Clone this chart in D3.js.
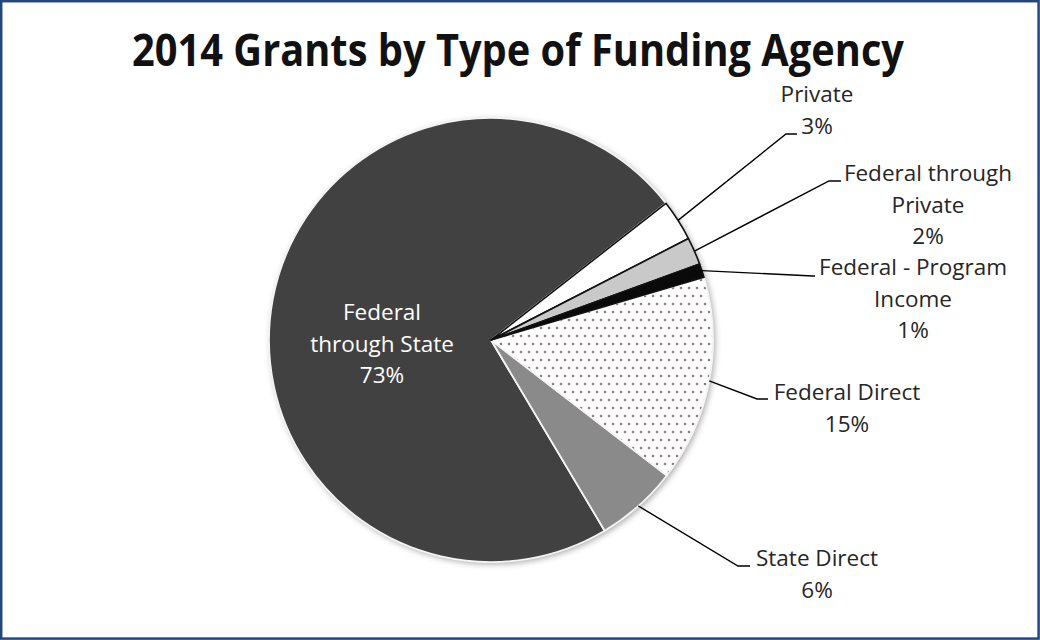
<!DOCTYPE html>
<html>
<head>
<meta charset="utf-8">
<script src="https://cdn.jsdelivr.net/npm/d3@7"></script>
<style>
  html, body { margin: 0; padding: 0; background: #ffffff; }
  svg { display: block; }
</style>
</head>
<body>
<svg id="chart" width="1040" height="640"></svg>
<script>
// Funding agency categories, drawn clockwise starting just past one o'clock
const categories = ["Private", "Federal through Private", "Federal - Program Income",
                    "Federal Direct", "State Direct", "Federal through State"];
const values = [3, 2, 1, 15, 6, 73];
const labelLines = [
  ["Private", "3%"],
  ["Federal through", "Private", "2%"],
  ["Federal - Program", "Income", "1%"],
  ["Federal Direct", "15%"],
  ["State Direct", "6%"],
  ["Federal", "through State", "73%"]
];

const W = 1040, H = 640;
const cx = 491, cy = 340, R = 222;
const startDeg = 52;

const svg = d3.select("#chart");

// chart frame
svg.append("rect")
  .attr("x", 1.2).attr("y", 1.2)
  .attr("width", W - 2.6).attr("height", H - 2.6)
  .attr("fill", "#ffffff")
  .attr("stroke", "#23467f").attr("stroke-width", 2.5);

const defs = svg.append("defs");
const dots = defs.append("pattern")
  .attr("id", "dots").attr("patternUnits", "userSpaceOnUse")
  .attr("width", 8).attr("height", 16);
dots.append("rect").attr("width", 8).attr("height", 16).attr("fill", "#ffffff");
dots.append("circle").attr("cx", 2).attr("cy", 4).attr("r", 1.3).attr("fill", "#8a7c7c");
dots.append("circle").attr("cx", 6).attr("cy", 12).attr("r", 1.3).attr("fill", "#8a7c7c");

const shadow = defs.append("filter").attr("id", "shadow")
  .attr("x", "-10%").attr("y", "-10%").attr("width", "120%").attr("height", "120%");
shadow.append("feDropShadow")
  .attr("dx", 2).attr("dy", 2).attr("stdDeviation", 3)
  .attr("flood-color", "#000000").attr("flood-opacity", 0.35);

// title
const title = svg.append("text")
  .attr("x", 518).attr("y", 66)
  .attr("text-anchor", "middle")
  .attr("font-family", "'Open Sans', 'Liberation Sans', sans-serif")
  .attr("font-weight", 700)
  .attr("font-size", 45)
  .attr("fill", "#111111")
  .text("2014 Grants by Type of Funding Agency");
const tw = title.node().getComputedTextLength();
if (tw > 772) title.attr("textLength", 772).attr("lengthAdjust", "spacingAndGlyphs");

const fills = ["#ffffff", "#c9c9c9", "#0a0a0a", "url(#dots)", "#8a8a8a", "#414141"];
const strokes = ["#111111", "#111111", "#111111", "#f4f4f4", "#f4f4f4", "#f4f4f4"];

const pie = d3.pie().sort(null).value(d => d)
  .startAngle(startDeg * Math.PI / 180)
  .endAngle(startDeg * Math.PI / 180 + 2 * Math.PI);
const arcs = pie(values);
const arc = d3.arc().innerRadius(0).outerRadius(R);

const g = svg.append("g").attr("transform", `translate(${cx},${cy})`);

// shadowed base disc behind the slices
g.append("circle").attr("r", R).attr("fill", "#ffffff").attr("filter", "url(#shadow)");

// light-outlined slices first, dark-outlined slices on top
const order = [5, 4, 3, 0, 1, 2];
g.selectAll("path.slice")
  .data(order.map(i => ({ a: arcs[i], i })))
  .join("path")
  .attr("class", "slice")
  .attr("d", d => arc(d.a))
  .attr("fill", d => fills[d.i])
  .attr("stroke", d => strokes[d.i])
  .attr("stroke-width", d => d.i <= 2 ? 1.6 : 1.8)
  .attr("stroke-linejoin", "round");

// outside label placement: elbow, end of horizontal run, text anchor point
const outside = [
  { elbow: [786, 134], end: [797, 134], tx: 817, ty: 102 },
  { elbow: [829, 181], end: [841, 181], tx: 928, ty: 181 },
  { elbow: [813, 276], end: [815, 276], tx: 913, ty: 275 },
  { elbow: [757, 399], end: [768, 399], tx: 847, ty: 400 },
  { elbow: [738, 566], end: [750, 566], tx: 817, ty: 566 }
];
const lineGap = 31.5;

outside.forEach((o, i) => {
  const a = arcs[i];
  const mid = (a.startAngle + a.endAngle) / 2;
  const sx = cx + R * Math.sin(mid);
  const sy = cy - R * Math.cos(mid);
  svg.append("path")
    .attr("d", d3.line()([[sx, sy], o.elbow, o.end]))
    .attr("fill", "none")
    .attr("stroke", "#000000")
    .attr("stroke-width", 1.4);
  const t = svg.append("text")
    .attr("text-anchor", "middle")
    .attr("font-family", "'Open Sans', sans-serif")
    .attr("font-size", 22.5)
    .attr("fill", "#262626");
  labelLines[i].forEach((s, k) => {
    t.append("tspan").attr("x", o.tx).attr("y", o.ty + k * lineGap).text(s);
  });
});

// label inside the large slice
const inner = svg.append("text")
  .attr("text-anchor", "middle")
  .attr("font-family", "'Open Sans', sans-serif")
  .attr("font-size", 22.5)
  .attr("fill", "#ffffff");
labelLines[5].forEach((s, k) => {
  inner.append("tspan").attr("x", 382).attr("y", 320 + k * lineGap).text(s);
});
</script>
</body>
</html>
